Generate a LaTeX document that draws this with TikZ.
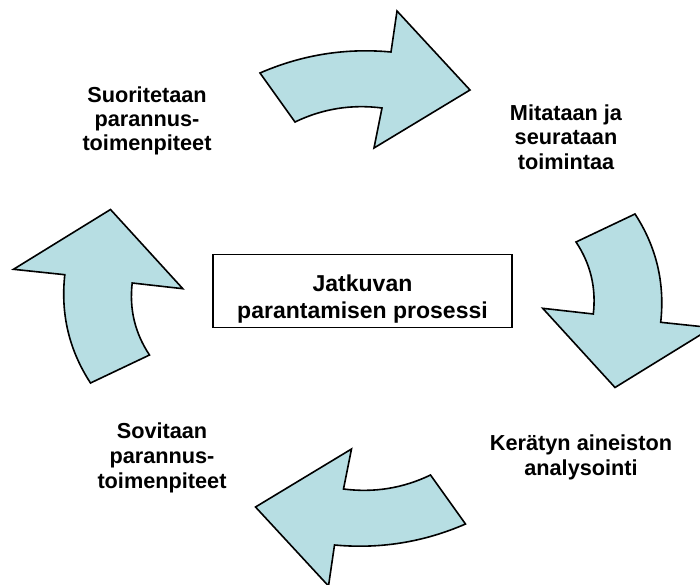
\documentclass[tikz,border=0pt]{standalone}
\usepackage{fontspec}
\setmainfont{Liberation Sans}
\definecolor{arrowfill}{RGB}{183,222,227}
\begin{document}
\begin{tikzpicture}[x=1pt,y=-1pt,
  blockarrow/.style={fill=arrowfill, draw=black, line width=1.6pt, line join=miter},
  lbl/.style={anchor=base, inner sep=0pt, font=\fontsize{21.7}{24}\selectfont\bfseries},
  ttl/.style={anchor=base, inner sep=0pt, font=\fontsize{23}{26}\selectfont\bfseries},
  titlebox/.style={draw=black, line width=1.3pt, minimum width=299pt, minimum height=73pt, inner sep=0pt}]
\useasboundingbox (0,0) rectangle (700,585);
\clip (0,0) rectangle (700,585);

% top arrow
\draw[blockarrow] (295,122) -- (260,73) .. controls (301.9,54.8) and (345.5,47.8) .. (391,52) -- (397,11) -- (470,90) -- (374,148) -- (382,108) .. controls (351.6,104.1) and (322.6,108.7) .. (295,122) -- cycle;
% bottom arrow
\begin{scope}[rotate around={180:(362.75,298.5)}]
\draw[blockarrow] (295,122) -- (260,73) .. controls (301.9,54.8) and (345.5,47.8) .. (391,52) -- (397,11) -- (470,90) -- (374,148) -- (382,108) .. controls (351.6,104.1) and (322.6,108.7) .. (295,122) -- cycle;
\end{scope}
% right arrow
\draw[blockarrow] (576,242) -- (635,214) .. controls (656.5,247) and (665,283.1) .. (660.7,322.3) -- (712,327.7) -- (615,387.5) -- (542.7,308.3) -- (593.3,314) .. controls (596.3,287.9) and (590.6,263.9) .. (576,242) -- cycle;
% left arrow
\begin{scope}[rotate around={180:(362.75,298.5)}]
\draw[blockarrow] (576,242) -- (635,214) .. controls (656.5,247) and (665,283.1) .. (660.7,322.3) -- (712,327.7) -- (615,387.5) -- (542.7,308.3) -- (593.3,314) .. controls (596.3,287.9) and (590.6,263.9) .. (576,242) -- cycle;
\end{scope}

% central box
\node[titlebox] (box) at (362.5,290.8) {};
\node[ttl] (t1) at (362.5,291.7) {Jatkuvan};
\node[ttl] (t2) at (362.5,318.3) {parantamisen prosessi};

% labels
\node[lbl] (a1) at (147,102.7) {Suoritetaan};
\node[lbl] (a2) at (147,126.5) {parannus-};
\node[lbl] (a3) at (147,151) {toimenpiteet};

\node[lbl] (b1) at (566,120.7) {Mitataan ja};
\node[lbl] (b2) at (566,145) {seurataan};
\node[lbl] (b3) at (566,170) {toimintaa};

\node[lbl] (c1) at (581,450.7) {Kerätyn aineiston};
\node[lbl] (c2) at (581,475) {analysointi};

\node[lbl] (d1) at (162,438) {Sovitaan};
\node[lbl] (d2) at (162,463) {parannus-};
\node[lbl] (d3) at (162,488) {toimenpiteet};
\end{tikzpicture}
\end{document}
